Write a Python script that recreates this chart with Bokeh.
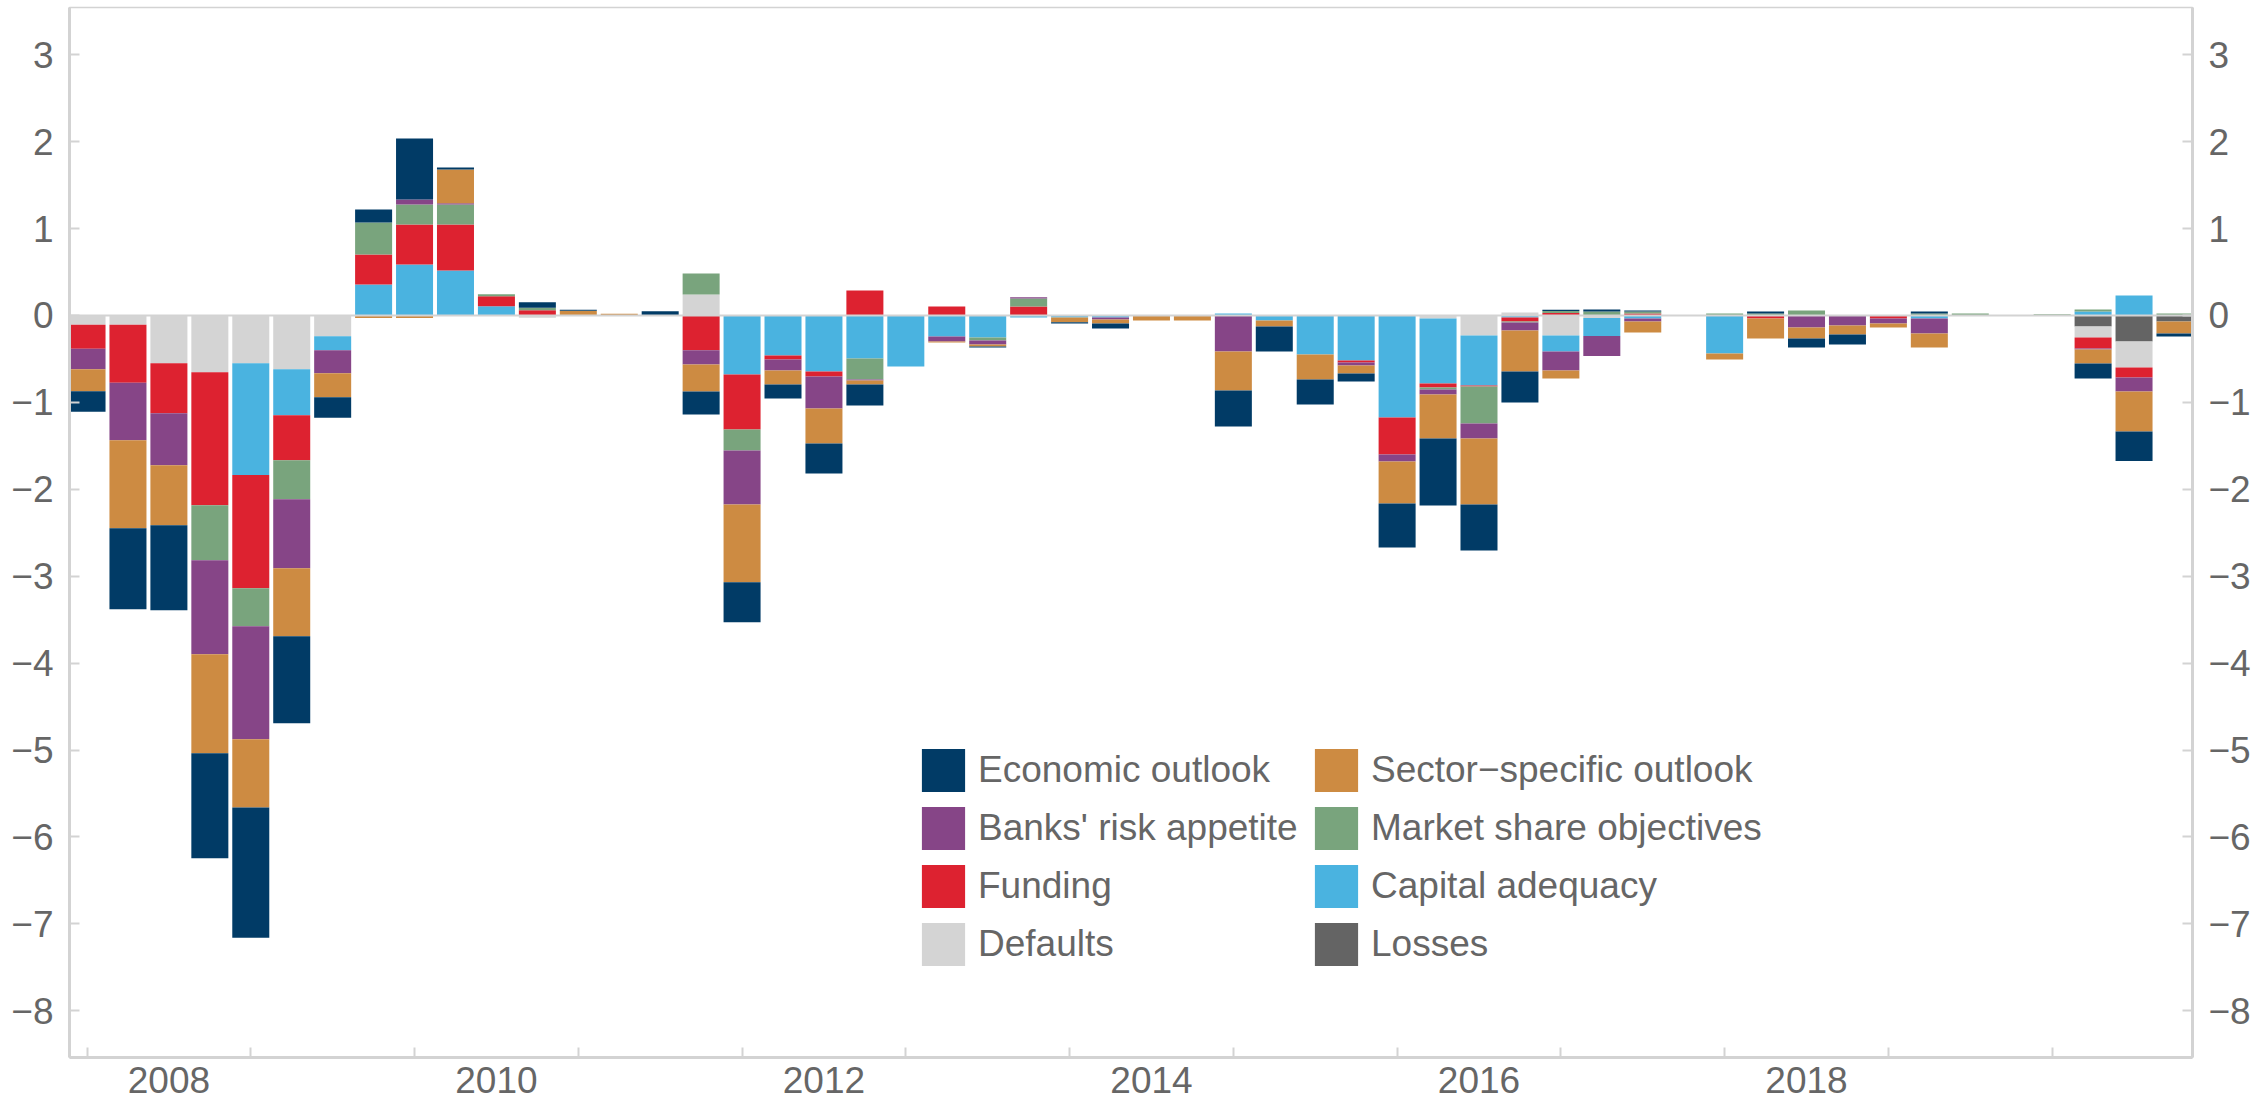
from bokeh.plotting import figure
from bokeh.models import (ColumnDataSource, FixedTicker, CustomJSTickFormatter, LinearAxis,
                          Range1d, Span, Legend, LegendItem)
from bokeh.embed import file_html
from bokeh.resources import INLINE

# ---------------- data ----------------
quarters = [f"{y}Q{q}" for y in range(2008, 2021) for q in range(1, 5)]

econ = [-0.238, -0.932, -0.978, -1.21, -1.50, -1.001, -0.238, 0.15, 0.702, 0.023,
        0.0, 0.065, 0.011, 0.0, 0.05, -0.264, -0.46, -0.161, -0.345, -0.242,
        0.0, 0.0, -0.012, 0.0, -0.015, -0.058, 0.0, 0.0, -0.414, -0.288,
        -0.288, -0.092, -0.507, -0.771, -0.529, -0.357, 0.012, 0.023, 0.012, 0.0,
        0.0, 0.023, -0.104, -0.115, 0.0, 0.023, 0.0, 0.0, 0.0, -0.173,
        -0.341, -0.035]
sector = [-0.253, -1.012, -0.691, -1.139, -0.785, -0.782, -0.276, -0.03, -0.03, 0.387,
          0.0, 0.0, 0.054, 0.02, 0.0, -0.311, -0.895, -0.161, -0.403, -0.046,
          0.0, -0.012, -0.023, 0.0, -0.054, -0.046, -0.058, -0.058, -0.449, -0.069,
          -0.288, -0.092, -0.483, -0.506, -0.76, -0.472, -0.092, 0.0, -0.127, 0.0,
          -0.069, -0.23, -0.127, -0.104, -0.046, -0.161, 0.0, 0.0, 0.0, -0.161,
          -0.46, -0.138]
banks = [-0.234, -0.66, -0.598, -1.081, -1.30, -0.794, -0.265, 0.0, 0.058, 0.015,
         0.0, 0.0, 0.0, 0.0, 0.0, -0.165, -0.622, -0.127, -0.368, -0.012,
         0.0, -0.058, -0.046, 0.015, 0.0, -0.023, 0.0, 0.0, -0.414, 0.0,
         0.0, -0.035, -0.08, -0.057, -0.172, -0.092, -0.219, -0.23, -0.035, 0.0,
         0.0, 0.0, -0.138, -0.115, -0.057, -0.172, 0.0, 0.0, 0.0, -0.01,
         -0.161, 0.0]
market = [0.0, 0.0, 0.0, -0.633, -0.437, -0.449, 0.0, 0.368, 0.23, 0.23,
          0.023, 0.027, 0.0, 0.0, 0.0, 0.241, -0.241, 0.0, 0.0, -0.241,
          0.0, 0.0, -0.035, 0.092, 0.0, 0.0, 0.0, 0.0, 0.0, 0.0,
          0.0, 0.0, 0.0, -0.023, -0.426, -0.011, 0.023, 0.046, 0.023, 0.0,
          0.023, 0.023, 0.058, 0.0, 0.0, 0.023, 0.023, 0.0, 0.015, 0.023,
          0.0, 0.023]
funding = [-0.277, -0.668, -0.575, -1.531, -1.304, -0.518, 0.0, 0.345, 0.46, 0.529,
           0.115, 0.061, 0.0, 0.0, 0.0, -0.399, -0.633, -0.046, -0.058, 0.288,
           0.0, 0.104, 0.0, 0.104, 0.0, 0.0, 0.0, 0.0, 0.0, 0.0,
           0.0, -0.023, -0.426, -0.046, -0.011, -0.046, 0.03, 0.0, 0.023, 0.0,
           0.0, -0.035, 0.0, 0.0, -0.035, 0.0, 0.0, 0.0, 0.0, -0.127,
           -0.115, 0.0]
capital = [0.0, 0.0, 0.0, 0.0, -1.285, -0.529, -0.161, 0.357, 0.587, 0.518,
           0.107, 0.0, 0.0, 0.0, 0.0, 0.0, -0.679, -0.46, -0.644, -0.495,
           -0.587, -0.242, -0.253, -0.023, -0.023, -0.023, 0.0, 0.0, 0.023, -0.058,
           -0.449, -0.518, -1.174, -0.748, -0.576, -0.023, -0.184, -0.207, -0.035, 0.0,
           -0.437, 0.0, 0.0, 0.0, 0.0, -0.035, 0.0, 0.0, 0.0, 0.046,
           0.23, 0.0]
defaults = [-0.107, -0.107, -0.549, -0.652, -0.549, -0.618, -0.238, 0.0, 0.0, 0.0,
            0.0, -0.027, 0.0, 0.0, 0.0, 0.242, 0.0, 0.0, 0.0, 0.0,
            0.0, 0.0, 0.0, 0.0, 0.0, 0.0, 0.0, 0.0, 0.0, 0.0,
            0.0, 0.0, 0.0, -0.035, -0.23, 0.035, -0.23, -0.03, 0.0, 0.0,
            0.0, 0.0, 0.0, 0.0, 0.0, 0.0, 0.0, 0.0, 0.0, -0.127,
            -0.299, 0.0]
losses = [0.0] * 49 + [-0.127, -0.299, -0.069]

year_ticks = [2008, 2009, 2010, 2011, 2012, 2013, 2014, 2015, 2016, 2017, 2018, 2019, 2020]
year_labels = [2008, 2010, 2012, 2014, 2016, 2018]
y_ticks = [-8, -7, -6, -5, -4, -3, -2, -1, 0, 1, 2, 3]

names = {
    "econ": "Economic outlook",
    "sector": "Sector\u2212specific outlook",
    "banks": "Banks' risk appetite",
    "market": "Market share objectives",
    "funding": "Funding",
    "capital": "Capital adequacy",
    "defaults": "Defaults",
    "losses": "Losses",
}
colors = {
    "econ": "#013B66",
    "sector": "#CD8B42",
    "banks": "#864587",
    "market": "#79A47D",
    "funding": "#DD2230",
    "capital": "#4AB3E0",
    "defaults": "#D4D4D4",
    "losses": "#646464",
}
series = {"losses": losses, "defaults": defaults, "capital": capital, "funding": funding,
          "market": market, "banks": banks, "sector": sector, "econ": econ}
stack_order = ["losses", "defaults", "capital", "funding", "market", "banks", "sector", "econ"]

# ---------------- build ----------------
x = [int(q[:4]) + (int(q[5]) - 1) / 4 for q in quarters]
pos = {"x": x}
neg = {"x": x}
for k in stack_order:
    pos[k] = [max(v, 0.0) for v in series[k]]
    neg[k] = [min(v, 0.0) for v in series[k]]
src_pos = ColumnDataSource(pos)
src_neg = ColumnDataSource(neg)

FONT = "Liberation Sans"
TXT = "#666666"
AX = "#D3D3D3"

p = figure(width=2256, height=1100, output_backend="svg", toolbar_location=None,
           x_range=Range1d(2007.893, 2020.857), y_range=Range1d(-8.538, 3.544),
           min_border_left=69, min_border_right=64, min_border_top=7, min_border_bottom=43,
           x_axis_location=None, y_axis_location=None)
p.grid.visible = False
p.outline_line_color = AX
p.outline_line_width = 1.5
p.background_fill_color = "white"
p.border_fill_color = "white"

bar_w = 0.226
cols = [colors[k] for k in stack_order]
r_pos = p.vbar_stack(stack_order, x="x", width=bar_w, fill_color=cols, line_color=None, source=src_pos)
r_neg = p.vbar_stack(stack_order, x="x", width=bar_w, fill_color=cols, line_color=None, source=src_neg)
rmap = dict(zip(stack_order, r_pos))

p.add_layout(Span(location=0, dimension="width", line_color=AX, line_width=2))

yfmt = CustomJSTickFormatter(code="return tick < 0 ? '\\u2212' + Math.abs(tick) : String(tick);")
for side in ("left", "right"):
    ax = LinearAxis(ticker=FixedTicker(ticks=y_ticks), formatter=yfmt)
    ax.axis_line_color = AX
    ax.axis_line_width = 3
    ax.major_tick_line_color = AX
    ax.major_tick_line_width = 2
    ax.major_tick_in = 10
    ax.major_tick_out = 0
    ax.minor_tick_line_color = None
    ax.major_label_standoff = 16
    ax.major_label_text_font = FONT
    ax.major_label_text_font_size = "37px"
    ax.major_label_text_color = TXT
    p.add_layout(ax, side)

xax = LinearAxis(ticker=FixedTicker(ticks=[y + 0.5 for y in year_labels], minor_ticks=year_ticks),
                 formatter=CustomJSTickFormatter(code="return Math.floor(tick).toFixed(0);"))
xax.axis_line_color = AX
xax.axis_line_width = 3
xax.major_tick_in = 0
xax.major_tick_out = 0
xax.major_tick_line_color = None
xax.minor_tick_in = 10
xax.minor_tick_out = 0
xax.minor_tick_line_color = AX
xax.minor_tick_line_width = 2
xax.major_label_standoff = 9
xax.major_label_text_font = FONT
xax.major_label_text_font_size = "37px"
xax.major_label_text_color = TXT
p.add_layout(xax, "below")

col1 = ["econ", "banks", "funding", "defaults"]
col2 = ["sector", "market", "capital", "losses"]
for keys, loc in ((col1, (847, 86)), (col2, (1240, 86))):
    leg = Legend(items=[LegendItem(label=names[k], renderers=[rmap[k]]) for k in keys],
                 location=loc, orientation="vertical")
    leg.glyph_width = 54
    leg.glyph_height = 54
    leg.label_standoff = 8
    leg.spacing = 4
    leg.padding = 0
    leg.margin = 0
    leg.border_line_alpha = 0
    leg.background_fill_alpha = 0
    leg.label_text_font = FONT
    leg.label_text_font_size = "37px"
    leg.label_text_color = TXT
    p.add_layout(leg)

open("out.html", "w").write(file_html(p, INLINE))
